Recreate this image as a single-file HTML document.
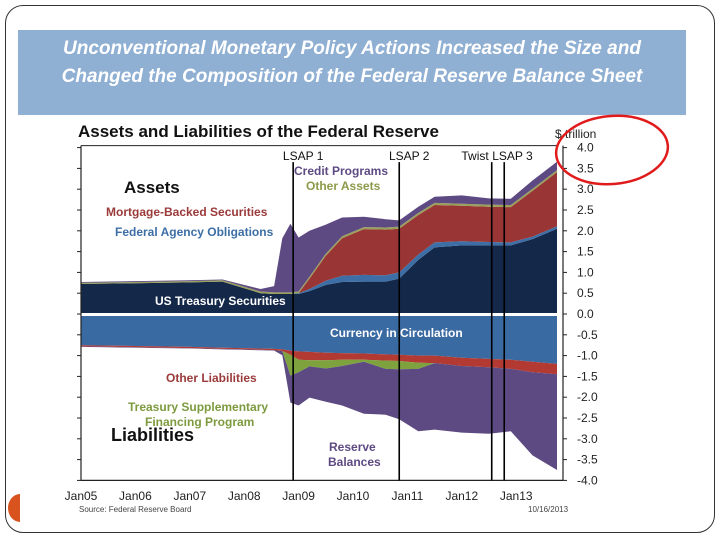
<!DOCTYPE html>
<html><head><meta charset="utf-8">
<style>
body{margin:0;width:720px;height:540px;background:#fff;overflow:hidden;font-family:"Liberation Sans",sans-serif;}
#frame{position:absolute;left:5px;top:5px;width:708px;height:526px;border:1.5px solid #333;border-radius:18px;}
#banner{position:absolute;left:18px;top:30px;width:668px;height:85px;background:#8fafd3;}
#banner div{color:#fff;font-style:italic;font-weight:bold;font-size:19px;text-align:center;line-height:28px;margin-top:5px;}
svg{position:absolute;left:0;top:0;}
</style></head><body>
<div id="frame"></div>
<div id="banner"><div>Unconventional Monetary Policy Actions Increased the Size and<br>Changed the Composition of the Federal Reserve Balance Sheet</div></div>
<svg id="chart" width="720" height="540"></svg>
<script>
const times=[2005,2006,2007,2007.6,2008.3,2008.55,2008.7,2008.85,2009.0,2009.2,2009.5,2009.8,2010.2,2010.6,2010.85,2011.2,2011.5,2012.0,2012.5,2012.9,2013.3,2013.75];
const treasury=[0.72,0.74,0.76,0.78,0.5,0.48,0.48,0.48,0.48,0.55,0.70,0.77,0.78,0.78,0.85,1.3,1.6,1.65,1.65,1.65,1.8,2.05];
const agency=[0,0,0,0,0,0,0,0,0.02,0.05,0.10,0.15,0.16,0.15,0.15,0.13,0.12,0.10,0.08,0.07,0.06,0.06];
const mbs=[0,0,0,0,0,0,0,0,0,0.25,0.6,0.9,1.1,1.1,1.05,0.95,0.9,0.85,0.85,0.85,1.1,1.3];
const otherAssets=[0.03,0.03,0.03,0.03,0.04,0.04,0.04,0.04,0.04,0.05,0.05,0.05,0.05,0.05,0.05,0.05,0.05,0.05,0.05,0.05,0.05,0.05];
const credit=[0.02,0.02,0.02,0.02,0.06,0.15,1.3,1.65,1.3,1.1,0.7,0.45,0.25,0.2,0.15,0.15,0.15,0.2,0.15,0.15,0.2,0.2];
const currency=[0.75,0.77,0.79,0.81,0.83,0.84,0.85,0.88,0.9,0.91,0.93,0.94,0.95,0.97,0.98,1.0,1.0,1.05,1.08,1.1,1.15,1.2];
const otherLiab=[0.03,0.03,0.03,0.03,0.03,0.03,0.04,0.1,0.2,0.2,0.18,0.16,0.15,0.15,0.15,0.17,0.18,0.2,0.2,0.22,0.25,0.25];
const tsfp=[0,0,0,0,0,0,0,0.5,0.3,0.15,0.2,0.15,0.05,0.2,0.2,0.15,0,0,0,0,0,0];
const reserves=[0.01,0.01,0.01,0.01,0.01,0.01,0.1,0.65,0.8,0.75,0.8,0.95,1.25,1.1,1.2,1.5,1.6,1.6,1.6,1.5,2.0,2.3];
const yTicks=["4.0","3.5","3.0","2.5","2.0","1.5","1.0","0.5","0.0","-0.5","-1.0","-1.5","-2.0","-2.5","-3.0","-3.5","-4.0"];
const yTickVals=[4,3.5,3,2.5,2,1.5,1,0.5,0,-0.5,-1,-1.5,-2,-2.5,-3,-3.5,-4];
const xTicks=["Jan05","Jan06","Jan07","Jan08","Jan09","Jan10","Jan11","Jan12","Jan13"];
const xTickVals=[2005,2006,2007,2008,2009,2010,2011,2012,2013];
const events=["LSAP 1","LSAP 2","Twist","LSAP 3"];
const eventTimes=[2008.9,2010.85,2012.55,2012.78];

const X0=81,X1=557,Y0=314;
const x=t=>X0+(t-2005)*54.4;
const y=v=>Y0-v*41.6;
const S=document.getElementById('chart');
const NS='http://www.w3.org/2000/svg';
function el(tag,attrs,parent){const e=document.createElementNS(NS,tag);for(const k in attrs)e.setAttribute(k,attrs[k]);(parent||S).appendChild(e);return e;}
function txt(s,attrs){const e=el('text',attrs);e.textContent=s;return e;}

function band(lo,hi,color,name,sign){
  let d='';
  times.forEach((t,i)=>{d+=(i?'L':'M')+x(t).toFixed(1)+','+y(sign*hi[i]).toFixed(1);});
  for(let i=times.length-1;i>=0;i--)d+='L'+x(times[i]).toFixed(1)+','+y(sign*lo[i]).toFixed(1);
  const p=el('path',{d:d+'Z',fill:color});
  
  
}
function cum(arrs){const out=[times.map(()=>0)];arrs.forEach(a=>{const prev=out[out.length-1];out.push(prev.map((v,i)=>v+a[i]));});return out;}
const A=cum([treasury,agency,mbs,otherAssets,credit]);
const aColors=['#14284a','#3d6ea6','#993535','#9aa05a','#5e4a82'];
const aNames=['treasury-area','agency-area','mbs-area','other-assets-area','credit-programs-area'];
for(let k=0;k<5;k++)band(A[k],A[k+1],aColors[k],aNames[k],1);
const L=cum([currency,otherLiab,tsfp,reserves]);
const lColors=['#3a6aa2','#b23a33','#7da23e','#5e4a82'];
const lNames=['currency-area','other-liabilities-area','tsfp-area','reserve-balances-area'];
for(let k=0;k<4;k++)band(L[k],L[k+1],lColors[k],lNames[k],-1);
let g=el('rect',{x:X0,y:Y0-1,width:X1-X0,height:3,fill:'#fff'});



let ax=el('line',{x1:X0,y1:y(4)-2,x2:X0,y2:y(-4),stroke:'#222','stroke-width':1.2});


ax=el('line',{x1:X0,y1:y(4)-2,x2:X1,y2:y(4)-2,stroke:'#222','stroke-width':1});


ax=el('line',{x1:X0,y1:y(-4),x2:563,y2:y(-4),stroke:'#222','stroke-width':1.2});


ax=el('line',{x1:563,y1:y(4)-2,x2:563,y2:y(-4),stroke:'#222','stroke-width':1.2});


yTickVals.forEach((v,i)=>{
  const tk=el('line',{x1:563,y1:y(v),x2:567,y2:y(v),stroke:'#222'});
  
  
  const lt=el('line',{x1:X0,y1:y(v),x2:X0-4,y2:y(v),stroke:'#222'});
  
  
  const t=txt(yTicks[i],{x:577,y:y(v)+4,'font-size':12,fill:'#222'});
  
  
});
xTickVals.forEach((v,i)=>{
  const t=txt(xTicks[i],{x:x(v),y:500,'font-size':12,fill:'#222','text-anchor':'middle'});
  
  
});
eventTimes.forEach((v,i)=>{
  const ln=el('line',{x1:x(v),y1:y(3.65),x2:x(v),y2:y(-4),stroke:'#000','stroke-width':1.6});
  
  
  const anchor=i==2?'end':(i==3?'start':'middle');
  const off=i==2?-3:(i==3?-12:10);
  const t=txt(events[i],{x:x(v)+off,y:160,'font-size':12,fill:'#111','text-anchor':anchor});
  
  
});
function lab(s,xx,yy,size,color,name,extra){const t=txt(s,Object.assign({x:xx,y:yy,'font-size':size,fill:color,'font-weight':'bold'},extra||{}));}
lab('Assets and Liabilities of the Federal Reserve',78,137,17,'#111','chart-title');
txt('$ trillion',{x:555,y:138,'font-size':12,fill:'#222'});
lab('Assets',124,193,17,'#111','assets-heading');
lab('Mortgage-Backed Securities',106,216,12,'#9b3a3a','mbs-label');
lab('Federal Agency Obligations',115,236,12,'#3d6ea6','agency-label');
lab('Credit Programs',294,175,12,'#5e4a82','credit-label');
lab('Other Assets',306,190,12,'#8c9a4a','other-assets-label');
lab('US Treasury Securities',155,305,12,'#fff','treasury-label');
lab('Currency in Circulation',330,337,12,'#fff','currency-label');
lab('Other Liabilities',166,382,12,'#9b3a3a','other-liabilities-label');
lab('Treasury Supplementary',128,411,12,'#7d9a3e','tsfp-label');
lab('Financing Program',145,426,12,'#7d9a3e','tsfp-label-2');
lab('Liabilities',111,441,18,'#111','liabilities-heading');
lab('Reserve',329,451,12,'#5e4a82','reserves-label');
lab('Balances',328,466,12,'#5e4a82','reserves-label-2');
txt('Source: Federal Reserve Board',{x:79,y:512,'font-size':8,fill:'#444'});
txt('10/16/2013',{x:528,y:512,'font-size':8,fill:'#444'});
const e=el('ellipse',{cx:612,cy:150,rx:56,ry:34,fill:'none',stroke:'#e01b1b','stroke-width':2.5,transform:'rotate(-5 612 150)'});


const o=el('path',{d:'M20,494 A12,14 0 0,0 20,522 Z',fill:'#d9531e'});


</script>
</body></html>
